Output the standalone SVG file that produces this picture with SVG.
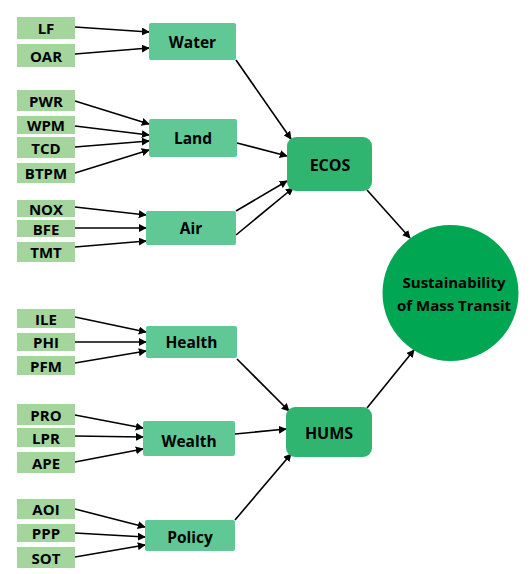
<svg xmlns="http://www.w3.org/2000/svg" width="531" height="574" viewBox="0 0 531 574">
<style>
.s{fill:#a3d59d}
.m{fill:#5fc894}
.e{fill:#30b571}
text{font-family:"Open Sans","DejaVu Sans",sans-serif;font-weight:700;fill:#000;text-anchor:middle;dominant-baseline:central}
.st{font-size:15px}
.mt{font-size:15.5px}
.et{font-size:16px}
.ct{font-size:15px}
.c line{stroke:#000;stroke-width:1.6;marker-end:url(#a)}
</style>
<defs>
<marker id="a" viewBox="0 0 10 10" refX="9" refY="5" markerWidth="5" markerHeight="5" orient="auto" markerUnits="strokeWidth">
<path d="M0,0 L10,5 L0,10 Z" fill="#000"/>
</marker>
</defs>
<rect width="531" height="574" fill="#fff"/>
<g class="c" id="connectors">
<line x1="75" y1="27" x2="149" y2="32"/>
<line x1="75" y1="54" x2="149" y2="48"/>
<line x1="75" y1="101" x2="149" y2="124"/>
<line x1="75" y1="126" x2="149" y2="135"/>
<line x1="75" y1="147" x2="149" y2="141"/>
<line x1="75" y1="173" x2="149" y2="150"/>
<line x1="75" y1="207" x2="146" y2="215"/>
<line x1="75" y1="228" x2="146" y2="228"/>
<line x1="75" y1="247" x2="146" y2="241"/>
<line x1="75" y1="317" x2="146" y2="332"/>
<line x1="75" y1="342" x2="146" y2="342"/>
<line x1="75" y1="363" x2="146" y2="351"/>
<line x1="75" y1="415" x2="143" y2="428"/>
<line x1="75" y1="436" x2="143" y2="437"/>
<line x1="75" y1="462" x2="143" y2="449"/>
<line x1="75" y1="509" x2="145" y2="527"/>
<line x1="75" y1="533" x2="145" y2="537"/>
<line x1="75" y1="557" x2="145" y2="545"/>
<line x1="236" y1="60" x2="291" y2="139"/>
<line x1="237" y1="143" x2="287" y2="156"/>
<line x1="236" y1="211" x2="287" y2="181"/>
<line x1="236" y1="235" x2="293" y2="188"/>
<line x1="367" y1="190" x2="410" y2="238"/>
<line x1="237" y1="359" x2="289" y2="411"/>
<line x1="235" y1="434" x2="286" y2="429"/>
<line x1="235" y1="520" x2="291" y2="454"/>
<line x1="367" y1="408" x2="414" y2="350"/>
</g>
<g id="LF"><rect class="s" x="17" y="17" width="58" height="22"/><text class="st" x="46" y="28">LF</text></g>
<g id="OAR"><rect class="s" x="17" y="44" width="58" height="23"/><text class="st" x="46" y="55.5">OAR</text></g>
<g id="PWR"><rect class="s" x="17" y="90" width="58" height="21"/><text class="st" x="46" y="100.5">PWR</text></g>
<g id="WPM"><rect class="s" x="17" y="116" width="58" height="18"/><text class="st" x="46" y="125">WPM</text></g>
<g id="TCD"><rect class="s" x="17" y="137" width="58" height="21"/><text class="st" x="46" y="147.5">TCD</text></g>
<g id="BTPM"><rect class="s" x="17" y="163" width="58" height="20"/><text class="st" x="46" y="173">BTPM</text></g>
<g id="NOX"><rect class="s" x="17" y="200" width="58" height="17"/><text class="st" x="46" y="208.5">NOX</text></g>
<g id="BFE"><rect class="s" x="17" y="220" width="58" height="17"/><text class="st" x="46" y="228.5">BFE</text></g>
<g id="TMT"><rect class="s" x="17" y="242" width="58" height="20"/><text class="st" x="46" y="252">TMT</text></g>
<g id="ILE"><rect class="s" x="17" y="309" width="58" height="19"/><text class="st" x="46" y="318.5">ILE</text></g>
<g id="PHI"><rect class="s" x="17" y="333" width="58" height="18"/><text class="st" x="46" y="342">PHI</text></g>
<g id="PFM"><rect class="s" x="17" y="356" width="58" height="19"/><text class="st" x="46" y="365.5">PFM</text></g>
<g id="PRO"><rect class="s" x="17" y="404" width="58" height="21"/><text class="st" x="46" y="414.5">PRO</text></g>
<g id="LPR"><rect class="s" x="17" y="428" width="58" height="19"/><text class="st" x="46" y="437.5">LPR</text></g>
<g id="APE"><rect class="s" x="17" y="452" width="58" height="21"/><text class="st" x="46" y="462.5">APE</text></g>
<g id="AOI"><rect class="s" x="17" y="499" width="58" height="20"/><text class="st" x="46" y="509">AOI</text></g>
<g id="PPP"><rect class="s" x="17" y="524" width="58" height="18"/><text class="st" x="46" y="533">PPP</text></g>
<g id="SOT"><rect class="s" x="17" y="547" width="58" height="21"/><text class="st" x="46" y="557.5">SOT</text></g>
<g id="Water"><rect class="m" x="149" y="23" width="87" height="37" rx="2"/><text class="mt" x="192.5" y="41.5">Water</text></g>
<g id="Land"><rect class="m" x="149" y="119" width="88" height="38" rx="2"/><text class="mt" x="193" y="138">Land</text></g>
<g id="Air"><rect class="m" x="146" y="211" width="90" height="34" rx="2"/><text class="mt" x="191" y="228">Air</text></g>
<g id="Health"><rect class="m" x="146" y="326" width="91" height="32" rx="2"/><text class="mt" x="191.5" y="342">Health</text></g>
<g id="Wealth"><rect class="m" x="143" y="421" width="92" height="35" rx="2"/><text class="mt" x="189" y="441">Wealth</text></g>
<g id="Policy"><rect class="m" x="145" y="520" width="90" height="31" rx="2"/><text class="mt" x="190" y="536.5">Policy</text></g>
<g id="ECOS"><rect class="e" x="287" y="137" width="85" height="54" rx="9"/><text class="et" x="330" y="165">ECOS</text></g>
<g id="HUMS"><rect class="e" x="286" y="407" width="86" height="50" rx="9"/><text class="et" x="329" y="433">HUMS</text></g>
<g id="SMT"><circle cx="450.5" cy="293" r="68" fill="#00a651"/><text class="ct" x="454" y="282">Sustainability</text><text class="ct" x="454" y="305">of Mass Transit</text></g>
</svg>
